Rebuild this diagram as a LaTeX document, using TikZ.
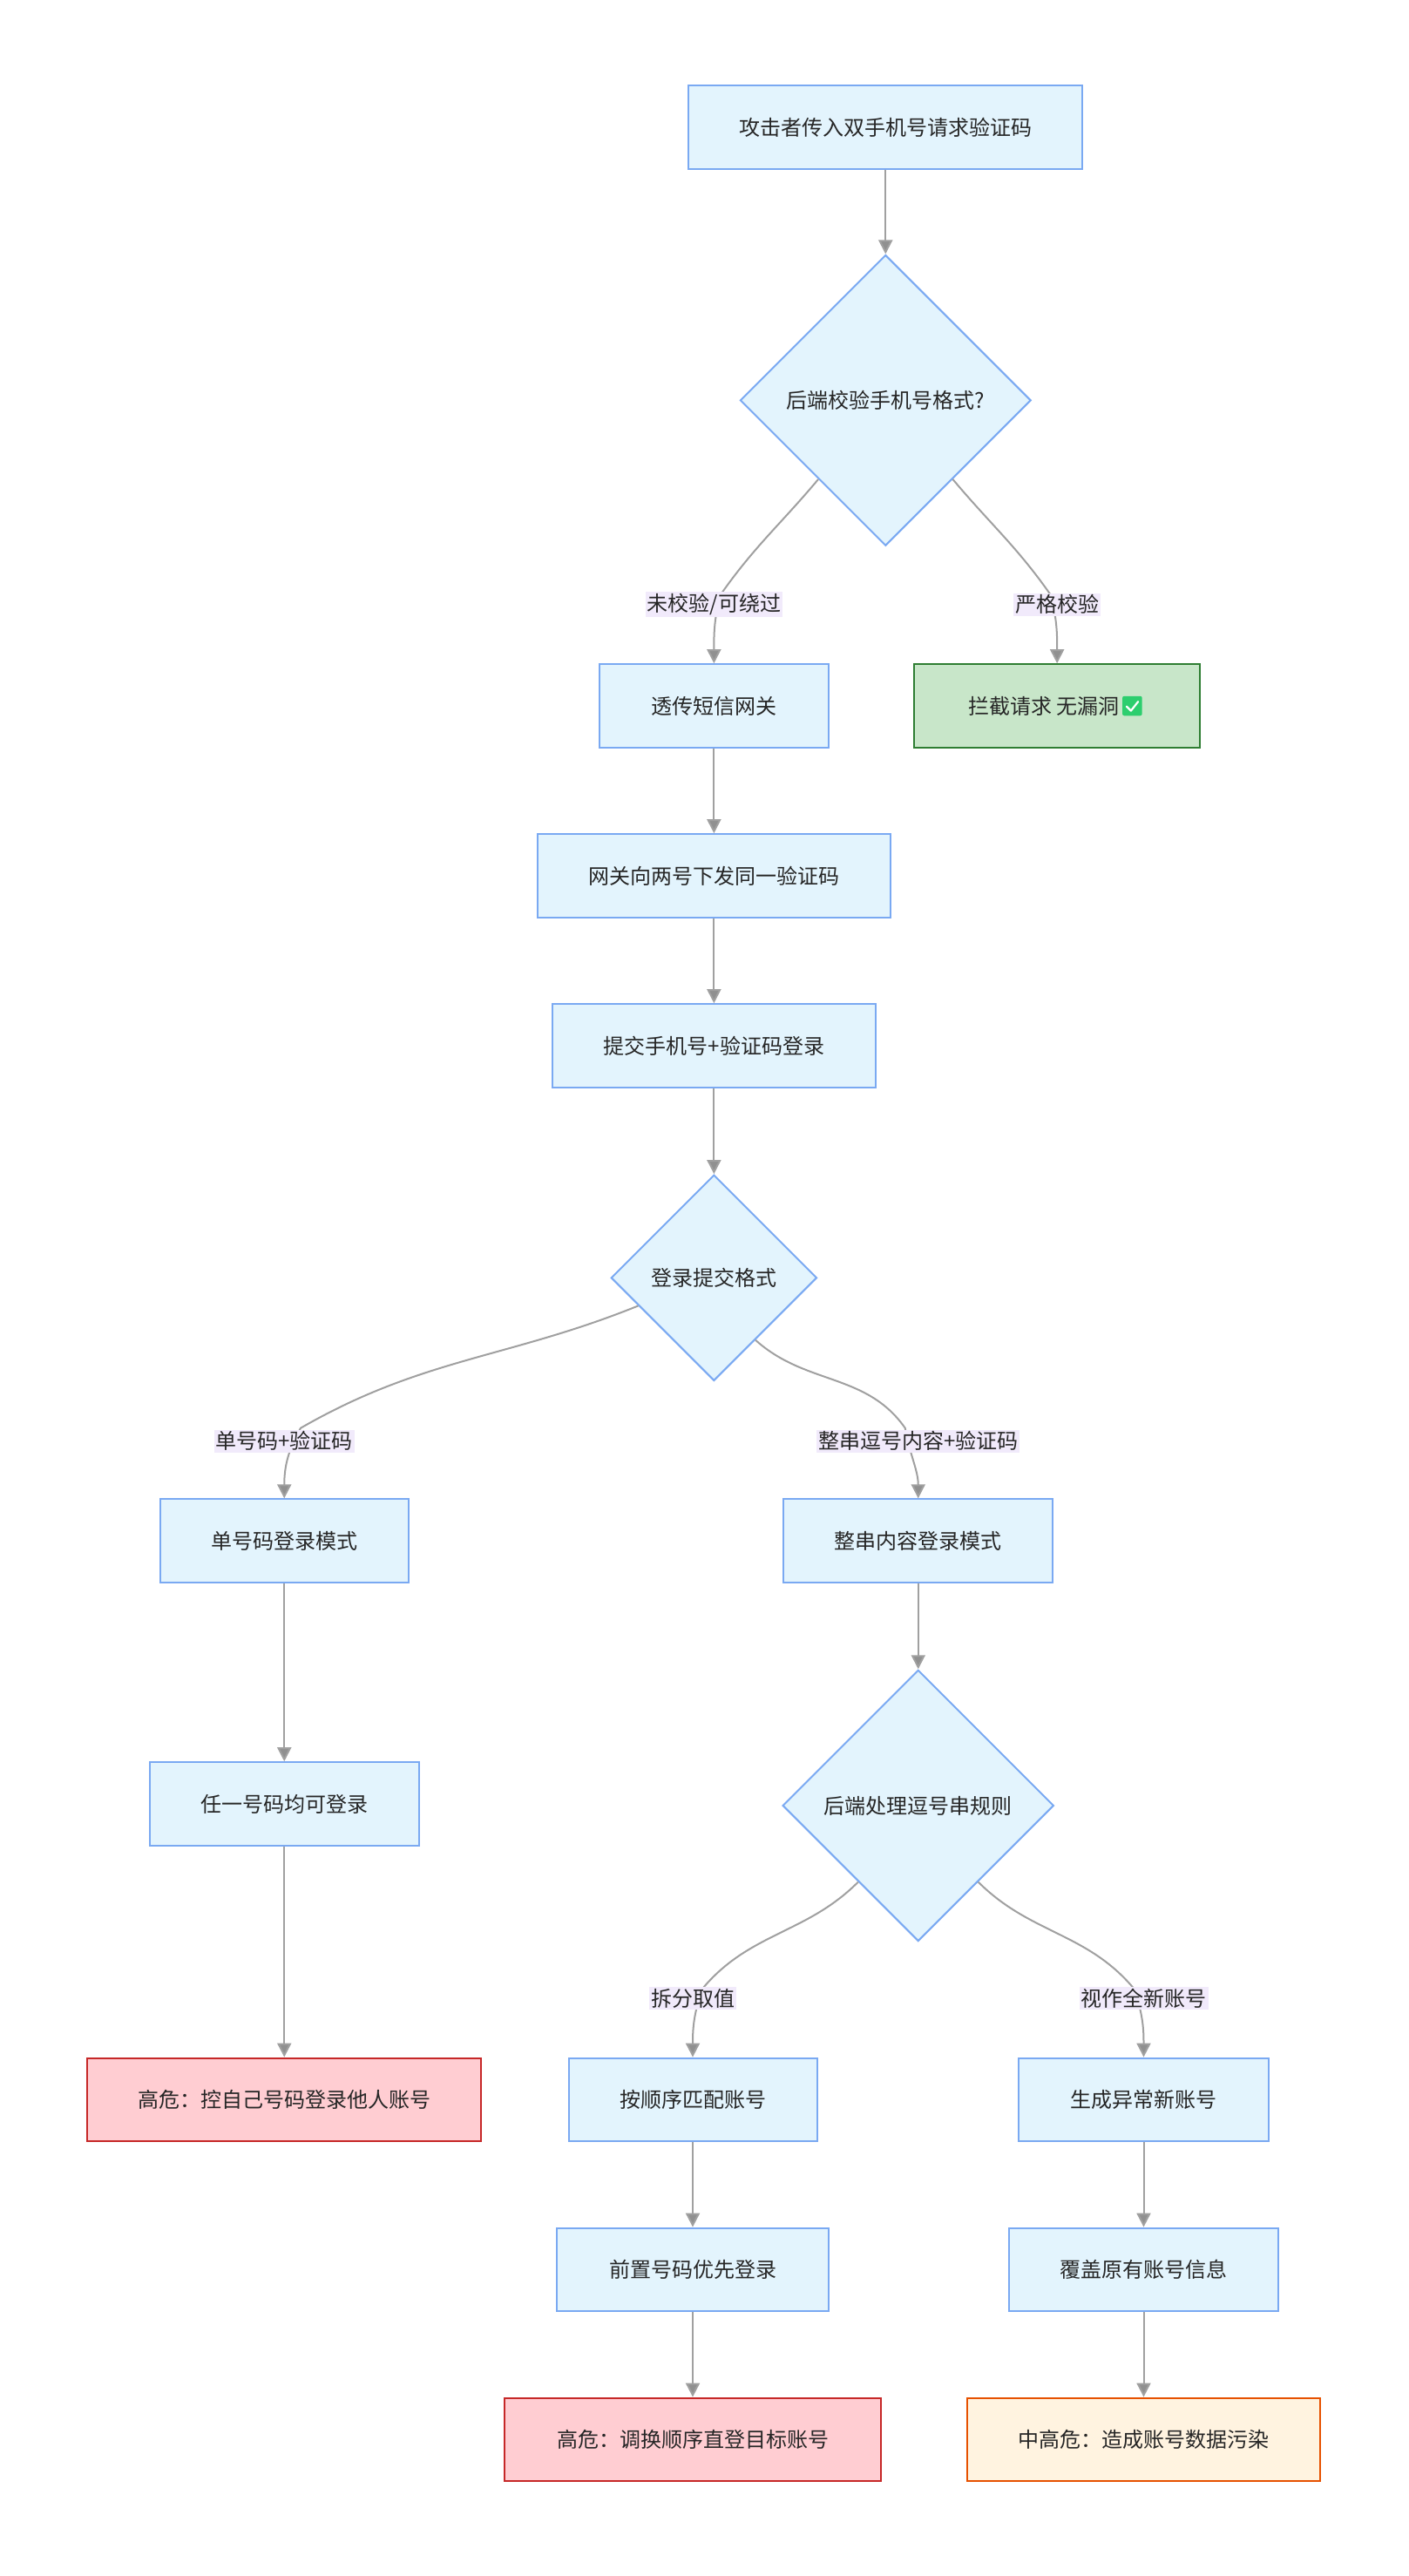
\documentclass[tikz,border=0pt]{standalone}
\usepackage{fontspec}
\setmainfont{Noto Sans CJK SC}
\usetikzlibrary{shapes.geometric,arrows.meta,calc}
\definecolor{bfill}{HTML}{E3F4FD}
\definecolor{bdraw}{HTML}{7AA9F2}
\definecolor{gfill}{HTML}{C8E6C9}
\definecolor{gdraw}{HTML}{2E7D32}
\definecolor{rfill}{HTML}{FFCDD2}
\definecolor{rdraw}{HTML}{C62828}
\definecolor{ofill}{HTML}{FFF3E0}
\definecolor{odraw}{HTML}{E65100}
\definecolor{lfill}{HTML}{F1EAFB}
\definecolor{ecol}{HTML}{A0A0A0}
\definecolor{chk}{HTML}{2DCE6E}
\tikzset{
  box/.style={draw=bdraw,fill=bfill,line width=2pt,minimum height=51*1.875pt,inner sep=0pt,font=\fontsize{24}{28}\selectfont,text=black!85},
  dia/.style={shape=diamond,draw=bdraw,fill=bfill,line width=2pt,inner sep=0pt,font=\fontsize{24}{28}\selectfont,text=black!85},
  lab/.style={fill=lfill,inner sep=2pt,font=\fontsize{24}{28}\selectfont,text=black!85},
  edge/.style={draw=ecol,line width=2pt,-{Triangle[length=16pt,width=16pt,fill=ecol!90!black]}},
}
\begin{document}
\begin{tikzpicture}[x=1.875pt,y=-1.875pt]
\useasboundingbox (0,0) rectangle (861.87,1576.53);
\fill[white] (0,0) rectangle (861.87,1576.53);
\begin{scope}[shift={(2,2)}]
% nodes
\node[box,minimum width=241*1.875pt] (n1) at (540,76) {攻击者传入双手机号请求验证码};
\node[dia,minimum width=178*1.875pt,minimum height=178*1.875pt] (d1) at (540,243) {后端校验手机号格式?};
\node[box,minimum width=140*1.875pt] (n2) at (435,430) {透传短信网关};
\node[box,draw=gdraw,fill=gfill,minimum width=175*1.875pt] (n3) at (645,430) {拦截请求 无漏洞\hspace*{30pt}};
\node[box,minimum width=216*1.875pt] (n4) at (435,534) {网关向两号下发同一验证码};
\node[box,minimum width=198*1.875pt] (n5) at (435,638) {提交手机号+验证码登录};
\node[dia,minimum width=126*1.875pt,minimum height=126*1.875pt] (d2) at (435,780) {登录提交格式};
\node[box,minimum width=152*1.875pt] (n6) at (172,941) {单号码登录模式};
\node[box,minimum width=165*1.875pt] (n7) at (560,941) {整串内容登录模式};
\node[box,minimum width=165*1.875pt] (n8) at (172,1102) {任一号码均可登录};
\node[dia,minimum width=166*1.875pt,minimum height=166*1.875pt] (d3) at (560,1103) {后端处理逗号串规则};
\node[box,draw=rdraw,fill=rfill,minimum width=241*1.875pt] (n9) at (172,1283) {高危：控自己号码登录他人账号};
\node[box,minimum width=152*1.875pt] (n10) at (422,1283) {按顺序匹配账号};
\node[box,minimum width=153*1.875pt] (n11) at (698,1283) {生成异常新账号};
\node[box,minimum width=166*1.875pt] (n12) at (422,1387) {前置号码优先登录};
\node[box,minimum width=165*1.875pt] (n13) at (698,1387) {覆盖原有账号信息};
\node[box,draw=rdraw,fill=rfill,minimum width=230*1.875pt] (n14) at (422,1491) {高危：调换顺序直登目标账号};
\node[box,draw=odraw,fill=ofill,minimum width=216*1.875pt] (n15) at (698,1491) {中高危：造成账号数据污染};
% check icon
\fill[chk,rounded corners=2pt] (685,424) rectangle (697,436);
\draw[white,line width=2.2pt,line cap=round,line join=round] (687.6,430.4) -- (690.2,433) -- (694.6,427.4);
% label coordinates
\coordinate (l1) at (435,368);
\coordinate (l2) at (645,368);
\coordinate (l3) at (172,880);
\coordinate (l4) at (560,880);
\coordinate (l5) at (422,1221);
\coordinate (l6) at (698,1221);
% edges
\draw[edge] (n1) -- (d1);
\draw[edge] ($(d1.west)!0.54!(d1.south)$) to[out=-130,in=55] ($(l1)+(4,-6)$) to[out=-105,in=90] (n2.north);
\draw[edge] ($(d1.east)!0.54!(d1.south)$) to[out=-50,in=125] ($(l2)+(-4,-6)$) to[out=-75,in=90] (n3.north);
\draw[edge] (n2) -- (n4);
\draw[edge] (n4) -- (n5);
\draw[edge] (n5) -- (d2);
\draw[edge] ($(d2.west)!0.27!(d2.south)$) to[out=-158,in=30] ($(l3)+(10,-8)$) to[out=-120,in=90] (n6.north);
\draw[edge] ($(d2.east)!0.6!(d2.south)$) to[out=-42,in=125] ($(l4)+(-8,-8)$) to[out=-80,in=90] (n7.north);
\draw[edge] (n6) -- (n8);
\draw[edge] (n7) -- (d3);
\draw[edge] (n8) -- (n9);
\draw[edge] ($(d3.west)!0.56!(d3.south)$) to[out=-135,in=50] ($(l5)+(6,-6)$) to[out=-110,in=90] (n10.north);
\draw[edge] ($(d3.east)!0.56!(d3.south)$) to[out=-45,in=130] ($(l6)+(-6,-6)$) to[out=-70,in=90] (n11.north);
\draw[edge] (n10) -- (n12);
\draw[edge] (n12) -- (n14);
\draw[edge] (n11) -- (n13);
\draw[edge] (n13) -- (n15);
% labels
\node[lab] (t1) at (l1) {未校验/可绕过};
\node[lab] (t2) at (l2) {严格校验};
\node[lab] (t3) at (l3) {单号码+验证码};
\node[lab] (t4) at (l4) {整串逗号内容+验证码};
\node[lab] (t5) at (l5) {拆分取值};
\node[lab] (t6) at (l6) {视作全新账号};
\end{scope}
\end{tikzpicture}
\end{document}
